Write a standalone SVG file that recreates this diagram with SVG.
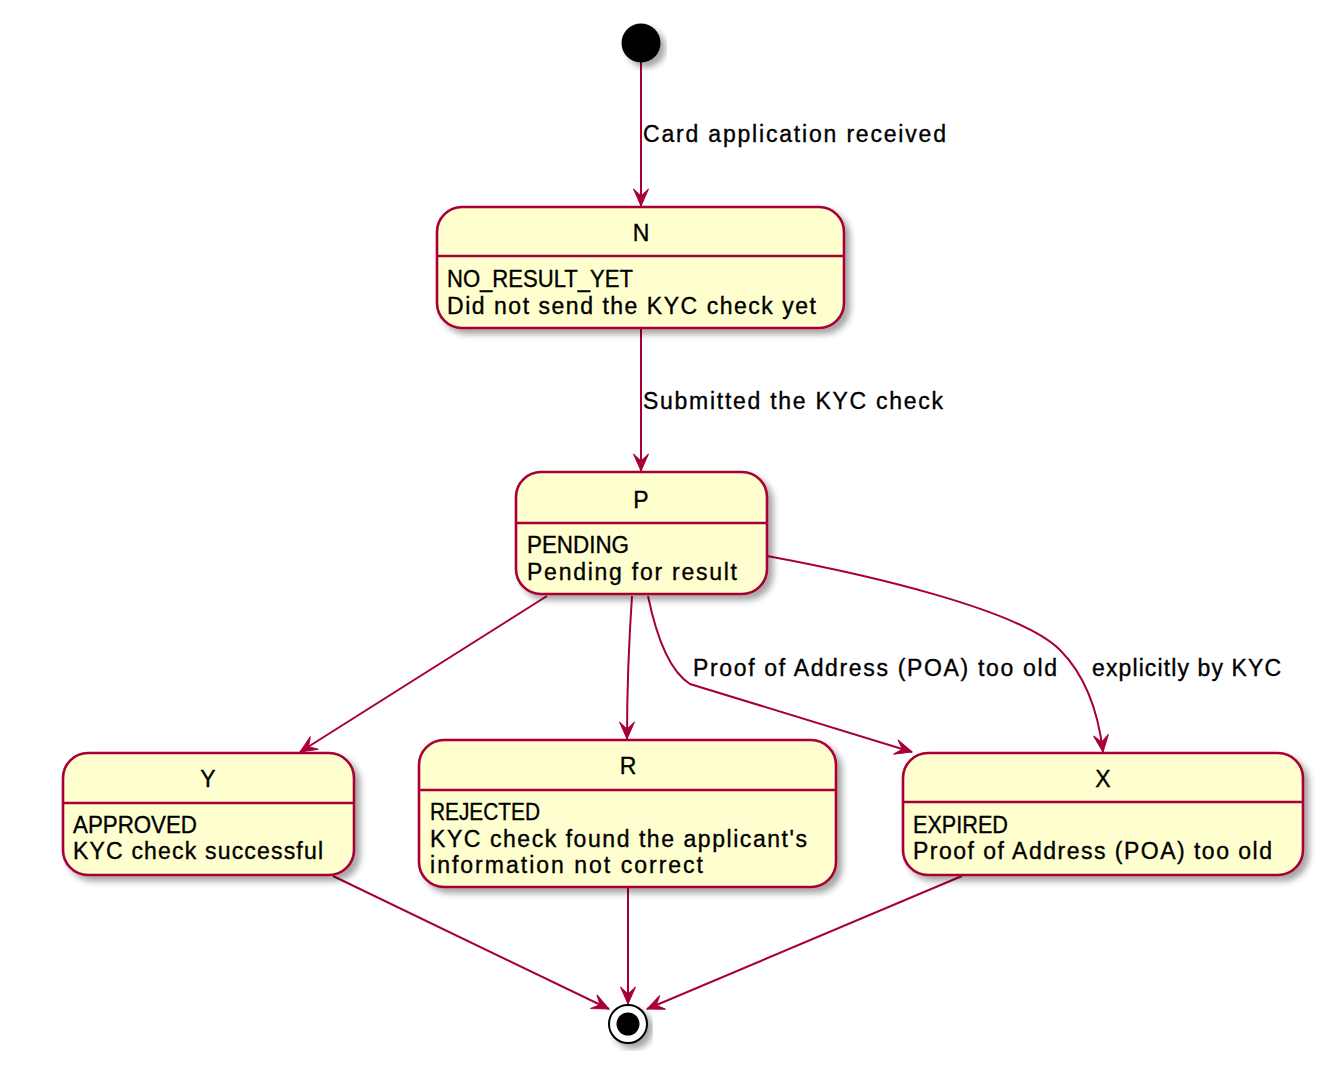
<svg xmlns="http://www.w3.org/2000/svg" width="1327" height="1091" viewBox="0 0 1327 1091">
<style>
.box{fill:#FEFECE;stroke:#A80036;stroke-width:2.6;filter:url(#sh)}
.sep{stroke:#A80036;stroke-width:2.6}
.t{font-family:"Liberation Sans",Arial,Helvetica,sans-serif;font-size:23px;fill:#000;stroke:#000;stroke-width:0.35}
.c{text-anchor:middle}
.edge{fill:none;stroke:#A80036;stroke-width:2;marker-end:url(#arr)}
</style>
<defs>
<filter id="sh" x="-10%" y="-10%" width="125%" height="130%">
<feGaussianBlur in="SourceAlpha" stdDeviation="3"/>
<feOffset dx="5" dy="5" result="b"/>
<feFlood flood-color="#000" flood-opacity="0.35"/>
<feComposite in2="b" operator="in"/>
<feMerge><feMergeNode/><feMergeNode in="SourceGraphic"/></feMerge>
</filter>
<marker id="arr" viewBox="-18 -9 19 18" refX="0" refY="0" markerWidth="19" markerHeight="18" markerUnits="userSpaceOnUse" orient="auto">
<path d="M0,0 L-17,-7.5 L-10,0 L-17,7.5 Z" fill="#A80036" stroke="#A80036" stroke-width="1" stroke-linejoin="miter"/>
</marker>
</defs>
<rect width="1327" height="1091" fill="#fff"/>

<g id="connectors">
<path class="edge" d="M641,62 L641,206"/>
<path class="edge" d="M641,329 L641,471"/>
<path class="edge" d="M547,596 L300,752"/>
<path class="edge" d="M632,596 C629,640 627,690 627,739"/>
<path class="edge" d="M648,596 C655,630 668,670 690,684 L912,752"/>
<path class="edge" d="M767,556 C870,575 1020,610 1060,650 C1085,675 1098,710 1103,752"/>
<path class="edge" d="M333,876 L609,1009"/>
<path class="edge" d="M628,888 L628,1004"/>
<path class="edge" d="M962,876 L647,1009"/>
<text class="t" x="643" y="142" textLength="303" lengthAdjust="spacing">Card application received</text>
<text class="t" x="643" y="409" textLength="300" lengthAdjust="spacing">Submitted the KYC check</text>
<text class="t" x="693" y="676" textLength="364" lengthAdjust="spacing">Proof of Address (POA) too old</text>
<text class="t" x="1092" y="676" textLength="189" lengthAdjust="spacing">explicitly by KYC</text>
</g>

<g id="start">
<circle cx="641" cy="43" r="19.5" fill="#000" filter="url(#sh)"/>
</g>

<g id="N">
<rect class="box" x="437" y="207" width="407" height="121" rx="25" ry="25"/>
<line class="sep" x1="437" y1="256" x2="844" y2="256"/>
<text class="t c" x="641" y="241">N</text>
<text class="t" x="447" y="287" textLength="186" lengthAdjust="spacingAndGlyphs">NO_RESULT_YET</text>
<text class="t" x="447" y="314" textLength="369" lengthAdjust="spacing">Did not send the KYC check yet</text>
</g>

<g id="P">
<rect class="box" x="516" y="472" width="251" height="122" rx="25" ry="25"/>
<line class="sep" x1="516" y1="523" x2="767" y2="523"/>
<text class="t c" x="641" y="508">P</text>
<text class="t" x="527" y="553" textLength="102" lengthAdjust="spacingAndGlyphs">PENDING</text>
<text class="t" x="527" y="580" textLength="210" lengthAdjust="spacing">Pending for result</text>
</g>

<g id="Y">
<rect class="box" x="63" y="753" width="291" height="122" rx="25" ry="25"/>
<line class="sep" x1="63" y1="803" x2="354" y2="803"/>
<text class="t c" x="208" y="787">Y</text>
<text class="t" x="73" y="833" textLength="124" lengthAdjust="spacingAndGlyphs">APPROVED</text>
<text class="t" x="73" y="859" textLength="250" lengthAdjust="spacing">KYC check successful</text>
</g>

<g id="R">
<rect class="box" x="419" y="740" width="417" height="147" rx="25" ry="25"/>
<line class="sep" x1="419" y1="790" x2="836" y2="790"/>
<text class="t c" x="628" y="774">R</text>
<text class="t" x="430" y="820" textLength="110" lengthAdjust="spacingAndGlyphs">REJECTED</text>
<text class="t" x="430" y="847" textLength="377" lengthAdjust="spacing">KYC check found the applicant's</text>
<text class="t" x="430" y="873" textLength="273" lengthAdjust="spacing">information not correct</text>
</g>

<g id="X">
<rect class="box" x="903" y="753" width="400" height="122" rx="25" ry="25"/>
<line class="sep" x1="903" y1="802" x2="1303" y2="802"/>
<text class="t c" x="1103" y="787">X</text>
<text class="t" x="913" y="833" textLength="95" lengthAdjust="spacingAndGlyphs">EXPIRED</text>
<text class="t" x="913" y="859" textLength="359" lengthAdjust="spacing">Proof of Address (POA) too old</text>
</g>

<g id="end">
<circle cx="628" cy="1024" r="19" fill="#fff" stroke="#000" stroke-width="2" filter="url(#sh)"/>
<circle cx="628" cy="1024" r="11.5" fill="#000"/>
</g>
</svg>
